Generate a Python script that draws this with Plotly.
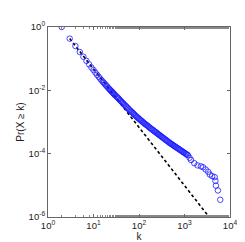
import plotly.graph_objects as go

k_vals = [2, 3, 4, 5, 6, 7, 8, 9, 10, 11, 12, 13, 14, 15, 16, 17, 18, 19, 20,
          21, 22, 23, 24, 25, 26, 27, 28, 29, 30, 32, 33, 35, 36, 38, 40, 42,
          44, 46, 48, 51, 53, 56, 58, 61, 64, 67, 70, 74, 77, 81, 85, 89, 93,
          98, 102, 107, 112, 118, 123, 129, 135, 142, 148, 156, 163, 171, 179,
          188, 197, 207, 216, 227, 238, 250, 261, 274, 287, 302, 316, 332, 347,
          365, 382, 401, 420, 441, 462, 485, 508, 533, 558, 586, 614, 645, 675,
          709, 742, 779, 816, 857, 897, 942, 986, 1035, 1084, 1137, 1190, 1290,
          1393, 1641, 1932, 2291, 2570, 2917, 3311, 3606, 4046, 4613, 4775,
          4898, 5433, 6109]
p_vals = [1.0, 0.43, 0.251, 0.162, 0.115, 0.0851, 0.0661, 0.0525, 0.0437,
          0.0363, 0.0309, 0.0269, 0.0234, 0.0209, 0.0186, 0.0170, 0.0155,
          0.0141, 0.0132,
          0.0120, 0.0112, 0.0105, 0.00977, 0.00923, 0.00871, 0.00822, 0.00776,
          0.00733, 0.00692, 0.00646, 0.00603, 0.00569, 0.00537, 0.00495,
          0.00457, 0.00427, 0.00398, 0.00372, 0.00347, 0.00324, 0.00302,
          0.00282, 0.00263, 0.00245, 0.00229, 0.00216, 0.00204, 0.00191,
          0.00178, 0.00166, 0.00155, 0.00146, 0.00138, 0.00130, 0.00123,
          0.00116, 0.00110, 0.00104, 0.000977, 0.000923, 0.000871, 0.000832,
          0.000794, 0.000750, 0.000708, 0.000668, 0.000631, 0.000603,
          0.000575, 0.000543, 0.000513, 0.000490, 0.000468, 0.000442,
          0.000417, 0.000398, 0.000380, 0.000359, 0.000339, 0.000324,
          0.000309, 0.000292, 0.000275, 0.000263, 0.000251, 0.000237,
          0.000224, 0.000214, 0.000204, 0.000195, 0.000186, 0.000178,
          0.000170, 0.000162, 0.000155, 0.000148, 0.000141, 0.000135,
          0.000129, 0.000123, 0.000117, 0.000112, 0.000107, 0.000102,
          9.77e-5, 9.33e-5, 8.91e-5, 7.41e-5,
          6.31e-5, 5.01e-5, 4.27e-5, 3.98e-5, 3.72e-5, 3.16e-5, 2.69e-5,
          2.19e-5, 1.95e-5, 1.82e-5, 1.38e-5, 9.8e-6, 6.9e-6, 3.5e-6]

# Power-law fit line endpoints
fit_k = [3, 4000]
fit_p = [0.43, 7.7e-7]

x_tickvals = [1, 10, 100, 1000, 10000]
x_ticktext = ["10<sup>0</sup>", "10<sup>1</sup>", "10<sup>2</sup>", "10<sup>3</sup>", "10<sup>4</sup>"]
y_tickvals = [1, 1e-2, 1e-4, 1e-6]
y_ticktext = ["10<sup>0</sup>", "10<sup>-2</sup>", "10<sup>-4</sup>", "10<sup>-6</sup>"]

fig = go.Figure()
fig.add_trace(go.Scatter(
    x=fit_k, y=fit_p, mode="lines",
    line=dict(color="black", width=1.6, dash="3px,2.5px"),
    showlegend=False, hoverinfo="skip"))
fig.add_trace(go.Scatter(
    x=k_vals, y=p_vals, mode="markers",
    marker=dict(symbol="circle-open", size=5.5, color="#1a1aff",
                line=dict(width=0.8, color="#1a1aff")),
    showlegend=False))

axis_font = dict(family="Liberation Sans, Arial, sans-serif", size=9.5, color="#222")
fig.update_layout(
    width=245, height=242,
    margin=dict(l=35, r=23, t=17, b=28),
    paper_bgcolor="white", plot_bgcolor="white",
    font=axis_font,
    xaxis=dict(type="log", range=[0, 4], showgrid=False, zeroline=False,
               showline=True, linecolor="#666", linewidth=1, mirror="allticks",
               ticks="inside", ticklen=3, tickcolor="#666",
               tickvals=x_tickvals, ticktext=x_ticktext,
               minor=dict(ticks="inside", ticklen=2, tickcolor="#888", showgrid=False),
               title=dict(text="k", standoff=0, font=dict(size=10)),
               tickfont=axis_font),
    yaxis=dict(type="log", range=[-6, 0], showgrid=False, zeroline=False,
               showline=True, linecolor="#666", linewidth=1, mirror="allticks",
               ticks="inside", ticklen=3, tickcolor="#666",
               tickvals=y_tickvals, ticktext=y_ticktext,
               title=dict(text="Pr(X ≥ k)", standoff=2, font=dict(size=10)),
               tickfont=axis_font),
)

fig.write_html("out.html")
